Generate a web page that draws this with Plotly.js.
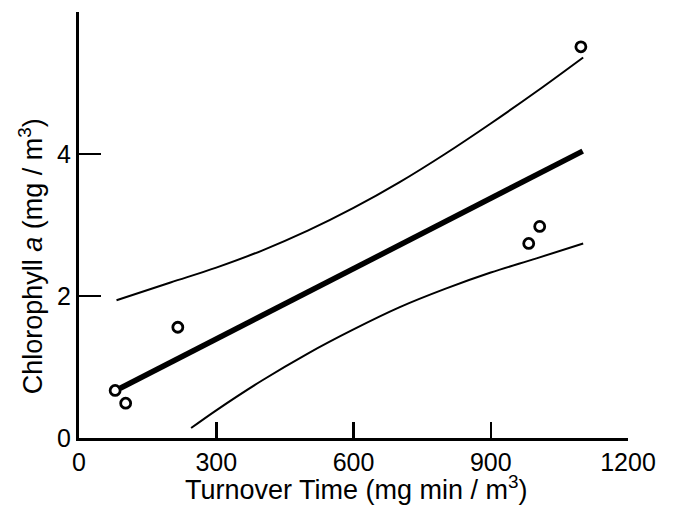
<!DOCTYPE html>
<html>
<head>
<meta charset="utf-8">
<script src="https://cdn.plot.ly/plotly-3.0.1.min.js"></script>
<style>html,body{margin:0;padding:0;background:#fff;}#chart{width:673px;height:509px;}</style>
</head>
<body>
<div id="chart"></div>
<script>
// Observed points
var obsX = [79, 102, 216, 983, 1007, 1097];
var obsY = [0.67, 0.49, 1.56, 2.74, 2.98, 5.51];

// Regression line (read endpoints)
var fitX = [90, 1101];
var fitY = [0.70, 4.04];

// Upper confidence curve
var upperX = [82, 200, 300, 400, 500, 600, 700, 800, 900, 1000, 1102];
var upperY = [1.94, 2.19, 2.40, 2.64, 2.92, 3.24, 3.60, 4.00, 4.43, 4.88, 5.36];

// Lower confidence curve
var lowerX = [245, 300, 400, 500, 600, 700, 800, 900, 1000, 1102];
var lowerY = [0.14, 0.39, 0.81, 1.19, 1.53, 1.84, 2.10, 2.33, 2.53, 2.74];

var xTicks = [0, 300, 600, 900, 1200];
var xTickText = ['0', '300', '600', '900', '1200'];
var yTicks = [0, 2, 4, 6];
var yTickText = ['0', '2', '4', ' '];

var xTitle = 'Turnover Time (mg min / m<sup>3</sup>)';
var yTitle = 'Chlorophyll <i>a</i> (mg / m<sup>3</sup>)';

var font = 'Liberation Sans, Arial, Helvetica, sans-serif';

var traces = [
  {x: upperX, y: upperY, mode: 'lines', line: {color: '#000', width: 2, shape: 'spline'}, hoverinfo: 'skip'},
  {x: lowerX, y: lowerY, mode: 'lines', line: {color: '#000', width: 2, shape: 'spline'}, hoverinfo: 'skip'},
  {x: fitX, y: fitY, mode: 'lines', line: {color: '#000', width: 5.5}, hoverinfo: 'skip'},
  {x: obsX, y: obsY, mode: 'markers', marker: {symbol: 'circle-open', size: 10, color: '#000', line: {color: '#000', width: 2.8}}, cliponaxis: false}
];

var layout = {
  width: 673, height: 509,
  margin: {l: 79, r: 45, t: 12, b: 71},
  paper_bgcolor: '#fff', plot_bgcolor: '#fff',
  showlegend: false,
  font: {family: font, color: '#000'},
  xaxis: {
    range: [0, 1200], tickvals: xTicks, ticktext: xTickText,
    ticks: 'inside', ticklen: 16, tickwidth: 2.5, tickcolor: '#000',
    showline: true, linewidth: 3, linecolor: '#000',
    showgrid: false, zeroline: false,
    tickfont: {size: 25, family: font, color: '#000'}
  },
  yaxis: {
    range: [0, 6], tickvals: yTicks, ticktext: yTickText,
    ticks: 'inside', ticklen: 22, tickwidth: 2.5, tickcolor: '#000',
    showline: true, linewidth: 3, linecolor: '#000',
    showgrid: false, zeroline: false,
    tickfont: {size: 25, family: font, color: '#000'}
  },
  annotations: [
    {text: xTitle, xref: 'paper', yref: 'paper', x: 0.505, y: -0.163, xanchor: 'center', yanchor: 'bottom',
     showarrow: false, font: {size: 27, family: font, color: '#000'}},
    {text: yTitle, xref: 'paper', yref: 'paper', x: -0.087, y: 0.427, xanchor: 'center', yanchor: 'middle',
     textangle: -90, showarrow: false, font: {size: 27, family: font, color: '#000'}}
  ]
};

Plotly.newPlot('chart', traces, layout, {displayModeBar: false, staticPlot: true});
</script>
</body>
</html>
